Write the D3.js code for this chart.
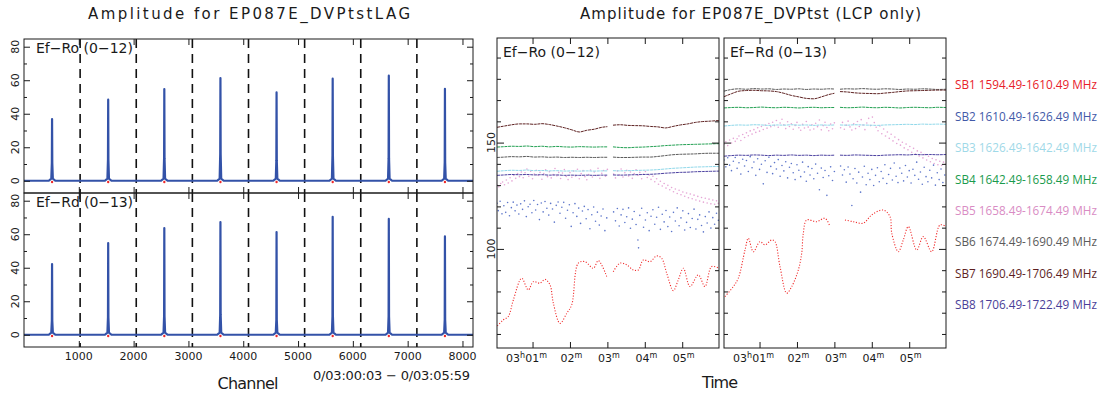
<!DOCTYPE html>
<html><head><meta charset="utf-8">
<script src="https://cdn.jsdelivr.net/npm/d3@7"></script>
<style>body{margin:0;background:#fff;} svg{display:block;}</style>
</head><body><svg id="c" width="1104" height="398"></svg>
<script>
// ---------- Left: spectra ----------
const channelTicks = [1000,2000,3000,4000,5000,6000,7000,8000];
const subbandEdges = [1024,2048,3072,4096,5120,6144,7168];
const subbandCenters = [512,1536,2560,3584,4608,5632,6656,7680];
const peaksRo = [36.8,48.4,54.7,61.3,52.7,60.9,62.7,54.9];
const shoulderRo = [10.6,12.5,13.5,16,12,15,13.5,11];
const peaksRd = [42.2,54.7,63.7,67.3,61.3,70.4,69.1,58.7];
const shoulderRd = [8.4,10.4,11,12,9,11,11,9];
const ampTicks = [0,20,40,60,80];
const ampMinor = [10,30,50,70];

// ---------- Right: amplitude vs time (seconds after 03:00:00) ----------
const timeTicks = [60,120,180,240,300];
const timeLabels = [["03","h","01","m"],["02","m"],["03","m"],["04","m"],["05","m"]];
const yMajorR = [100,150];
const yMinorR = [60,70,80,90,110,120,130,140,160,170,180,190];
const tGrid = [3,15,27,39,51,63,75,87,99,111,123,135,147,159,171,180,184,189,201,213,225,237,249,261,273,285,297,309,321,333,345,359];

const sb7A = [157.2,157.8,158.4,158.8,158.8,158.6,158.9,158.5,157.8,157.0,156.0,155.0,155.8,156.3,157.2,157.5,null,158.2,158.4,158.1,158.0,157.9,157.6,157.4,156.9,157.6,158.3,158.8,159.5,159.9,160.1,160.4];
const sb4A = [147.9,148.1,148.3,148.2,148.4,148.1,148.3,148.0,148.2,148.0,147.9,148.1,148.0,147.9,148.0,148.0,null,148.0,147.7,147.6,147.8,147.9,148.1,148.3,148.6,148.8,149.0,149.1,149.2,149.3,149.4,149.5];
const sb6A = [143.0,143.2,143.4,143.3,143.5,143.2,143.3,143.1,143.2,143.0,143.1,143.0,143.1,143.0,143.1,143.1,null,143.2,143.0,143.0,143.1,143.2,143.2,143.5,143.9,144.3,144.5,144.6,144.7,144.9,145.0,145.0];
const sb3A = [136.5,136.8,137.0,136.9,137.1,136.8,136.9,136.7,136.8,136.6,136.7,136.6,136.7,136.6,136.7,136.7,null,136.8,136.7,136.8,136.9,137.0,137.1,137.3,137.6,137.9,138.1,138.3,138.5,138.6,138.7,138.8];
const sb8A = [134.6,134.8,135.0,134.9,135.0,134.8,134.9,134.7,134.8,134.6,134.7,134.6,134.7,134.6,134.7,134.7,null,134.8,134.7,134.8,134.9,135.0,135.1,135.3,135.6,135.8,136.0,136.1,136.3,136.4,136.5,136.6];

const sb6B = [174.2,175.0,175.3,175.1,175.4,175.2,175.3,175.0,175.2,175.1,175.3,175.0,175.2,175.1,175.3,175.2,null,175.1,175.3,175.2,175.4,175.2,175.1,175.3,175.2,175.0,175.2,175.1,175.3,175.2,175.0,175.1];
const sb7B = [171.6,173.0,174.2,174.5,174.6,174.4,174.3,174.0,173.2,172.2,171.5,170.8,170.6,171.5,172.6,173.2,null,174.0,173.8,173.4,173.2,173.1,173.0,173.3,173.6,174.0,174.3,174.4,174.5,174.6,174.7,174.7];
const sb4B = [166.3,166.5,166.6,166.4,166.5,166.7,166.5,166.4,166.6,166.5,166.3,166.5,166.6,166.4,166.5,166.5,null,166.6,166.4,166.5,166.7,166.5,166.4,166.6,166.5,166.3,166.5,166.6,166.5,166.4,166.6,166.5];
const sb3B = [157.8,158.1,158.3,158.2,158.4,158.3,158.1,158.3,158.2,158.4,158.2,158.3,158.1,158.3,158.2,158.3,null,158.3,158.2,158.4,158.3,158.2,158.1,158.3,158.4,158.5,158.6,158.5,158.7,158.6,158.7,158.6];
const sb8B = [143.6,143.9,144.1,144.0,144.2,144.1,143.9,144.1,144.0,144.2,144.0,144.1,143.9,144.1,144.0,144.1,null,144.1,144.0,144.2,144.1,144.0,143.9,144.1,144.2,144.3,144.2,144.4,144.3,144.4,144.3,144.4];

const sb1TimesA = [3.5,13.1,21.1,29.2,42.6,53.2,61.2,72,80,88,93.3,104,114.8,122.8,133.4,144.1,157.5,165.5,178.9,184,189.5,200.2,211,221.6,229.6,237.6,248.3,259.1,267.1,275.1,285.7,293.7,301.8,312.5,325.8,336.5,347.2,359];
const sb1A = [63.8,66.6,68.2,76.0,86.2,80.7,84.6,83.9,85.7,83.1,74.5,65.0,69.7,73.7,93.3,94.0,90.9,94.5,87.0,null,89.3,93.3,92.5,90.1,90.1,94.8,94.0,96.7,95.6,88.6,80.4,85.4,90.9,82.3,87.8,82.3,91.7,90.9];
const sb1TimesB = [4.6,17.9,25.9,36.7,42,50,60.7,68.7,79.5,84.8,92.8,103.5,111.6,122.2,127.6,130.2,135.6,151.6,165,173,184,197,210.4,226.4,239.9,258.5,269.2,272,282.5,290.5,298.6,312,322.6,336,349.4,359];
const sb1B = [77.6,82.3,86.2,99.5,105.0,98.7,103.4,101.9,104.2,103.4,91.7,79.2,82.3,90.1,98.0,107.4,113.6,112.8,114.4,110.5,null,113.6,112.8,112.1,116.0,118.3,115.2,107.4,98.7,104.2,110.5,99.5,105.8,98.7,111.3,110.5];

const sb5A = [[3,130.0],[6,129.2],[9,130.8],[12,131.5],[15,130.2],[18,132.4],[21,131.0],[24,133.5],[27,132.0],[30,134.6],[33,133.2],[36,135.4],[39,134.0],[42,136.2],[45,133.5],[48,135.8],[51,137.6],[54,134.2],[57,136.5],[60,133.0],[63,135.2],[66,137.0],[69,134.6],[72,136.0],[75,132.8],[78,135.5],[81,137.2],[84,134.0],[87,136.3],[90,133.4],[93,135.0],[96,137.8],[99,134.4],[102,136.0],[105,133.1],[108,135.7],[111,137.3],[114,134.1],[117,132.6],[120,135.9],[123,133.7],[126,136.6],[129,134.3],[132,137.5],[135,133.0],[138,135.4],[141,136.8],[144,134.0],[147,132.5],[150,135.0],[153,137.1],[156,133.8],[159,136.2],[162,134.5],[165,137.9],[168,133.2],[171,135.6],[174,136.9],[177,134.2],[180,137.4],[190,135.2],[193,133.4],[196,136.7],[199,134.9],[202,137.6],[205,133.8],[208,135.8],[211,137.0],[214,134.3],[217,136.2],[220,133.2],[223,135.4],[226,137.2],[229,134.6],[232,136.0],[235,133.0],[238,135.1],[241,136.4],[244,133.6],[247,134.8],[250,132.7],[253,134.2],[256,131.6],[259,133.0],[262,130.4],[265,131.8],[268,129.6],[271,130.8],[274,128.6],[277,129.9],[280,127.8],[283,128.9],[286,126.9],[289,128.2],[292,126.1],[295,127.6],[298,125.5],[301,126.8],[304,124.8],[307,126.3],[310,124.1],[313,125.8],[316,123.6],[319,125.3],[322,123.0],[325,124.7],[328,122.5],[331,124.2],[334,122.0],[337,123.8],[340,121.6],[343,123.4],[346,121.2],[349,123.0],[352,121.0],[355,122.6],[358,121.4]];
const sb2A = [[3,121.5],[5,118.0],[8,122.4],[11,116.5],[14,120.3],[17,117.2],[20,121.8],[23,115.6],[26,119.4],[29,122.0],[32,117.9],[35,120.6],[38,116.4],[41,121.2],[44,118.6],[47,122.6],[50,115.2],[53,119.8],[56,121.0],[59,117.0],[62,122.8],[65,118.3],[68,120.9],[71,113.8],[74,121.6],[77,117.4],[80,122.3],[83,119.1],[86,115.9],[89,121.4],[92,118.8],[95,112.6],[98,120.5],[101,122.1],[104,116.8],[107,119.6],[110,121.9],[113,114.4],[116,118.2],[119,120.8],[122,110.6],[125,117.0],[128,121.3],[131,115.3],[134,119.2],[137,112.0],[140,117.8],[143,120.0],[146,114.2],[149,118.5],[152,109.5],[155,116.1],[158,119.7],[161,113.0],[164,117.3],[167,111.2],[170,115.5],[173,118.8],[176,108.6],[179,114.6],[190,117.4],[193,113.2],[196,119.0],[199,110.8],[202,116.0],[205,118.6],[208,112.4],[211,115.1],[214,119.3],[217,109.7],[220,114.0],[223,117.6],[226,111.5],[229,104.2],[230,100.5],[232,115.8],[235,119.1],[238,110.2],[241,113.6],[244,117.0],[247,108.6],[250,115.4],[253,118.4],[256,111.6],[259,114.9],[262,119.6],[265,109.2],[268,116.3],[271,112.7],[274,118.1],[277,110.5],[280,115.0],[283,108.2],[286,117.2],[289,113.1],[292,119.3],[295,110.9],[298,114.6],[301,117.9],[304,108.9],[307,112.5],[310,116.6],[313,110.1],[316,114.3],[319,118.7],[322,109.4],[325,113.9],[328,116.0],[331,111.0],[334,108.0],[337,115.2],[340,112.2],[343,117.4],[346,109.8],[349,114.7],[352,111.6],[355,116.8],[358,113.5]];
const sb5B = [[3,149.2],[6,150.4],[9,148.6],[12,151.2],[15,149.8],[18,152.0],[21,150.6],[24,151.8],[27,153.1],[30,151.0],[33,153.8],[36,152.4],[39,154.6],[42,153.2],[45,155.5],[48,154.0],[51,156.1],[54,154.8],[57,157.0],[60,155.4],[63,157.6],[66,156.2],[69,158.3],[72,156.8],[75,159.0],[78,157.5],[81,159.6],[84,158.0],[87,160.4],[90,157.2],[93,159.2],[96,161.0],[99,158.4],[102,156.6],[105,159.8],[108,157.6],[111,158.9],[114,156.3],[117,158.1],[120,159.5],[123,157.0],[126,155.8],[129,158.6],[132,156.9],[135,159.9],[138,157.3],[141,155.9],[144,158.4],[147,156.4],[150,159.1],[153,157.5],[156,160.6],[159,156.0],[162,158.0],[165,159.6],[168,157.1],[171,155.6],[174,158.7],[177,156.5],[180,159.3],[190,157.0],[193,159.5],[196,156.3],[199,158.2],[202,160.1],[205,157.4],[208,155.9],[211,158.8],[214,156.6],[217,159.9],[220,157.6],[223,160.8],[226,158.3],[229,156.1],[232,159.2],[235,161.4],[238,158.0],[241,162.0],[244,159.4],[247,157.2],[250,155.6],[253,157.8],[256,154.2],[259,156.4],[262,153.1],[265,155.0],[268,152.0],[271,153.9],[274,150.8],[277,152.6],[280,149.6],[283,151.4],[286,148.8],[289,150.2],[292,147.5],[295,149.3],[298,146.6],[301,148.2],[304,145.5],[307,147.3],[310,144.6],[313,146.1],[316,143.7],[319,145.4],[322,142.8],[325,144.4],[328,141.8],[331,143.6],[334,141.0],[337,142.5],[340,140.2],[343,141.9],[346,139.6],[349,141.2],[352,139.3],[355,140.8],[358,139.8]];
const sb2B = [[3,141.8],[6,138.6],[9,142.9],[12,139.4],[15,136.8],[18,141.2],[21,143.0],[24,137.9],[27,140.5],[30,135.2],[33,142.2],[36,139.0],[39,141.6],[42,136.4],[45,143.4],[48,138.2],[51,140.9],[54,134.6],[57,142.4],[60,137.4],[63,139.8],[66,130.6],[69,141.5],[72,136.0],[75,143.1],[78,138.8],[81,135.4],[84,140.6],[87,137.6],[90,142.0],[93,134.2],[96,139.2],[99,136.7],[102,141.0],[105,133.4],[108,138.4],[111,140.2],[114,135.8],[117,132.6],[120,139.6],[123,137.0],[126,134.0],[129,140.8],[132,136.2],[135,131.8],[138,138.7],[141,134.8],[144,137.8],[147,133.0],[150,139.9],[153,135.6],[156,127.8],[159,138.0],[162,133.6],[165,136.9],[168,125.2],[171,134.4],[174,138.6],[177,132.2],[180,136.4],[190,139.0],[193,134.8],[196,137.2],[199,131.4],[202,138.5],[205,135.2],[208,120.4],[210,133.0],[213,137.8],[216,131.0],[219,136.1],[222,126.7],[225,133.8],[228,138.9],[231,130.2],[234,135.6],[237,132.6],[240,137.4],[243,129.8],[246,134.6],[249,138.2],[252,131.6],[255,136.4],[258,133.2],[261,139.6],[264,130.8],[267,135.0],[270,137.9],[273,132.4],[276,140.4],[279,134.2],[282,131.2],[285,138.0],[288,135.6],[291,132.0],[294,139.2],[297,133.8],[300,136.8],[303,131.0],[306,137.5],[309,134.6],[312,140.8],[315,132.8],[318,136.2],[321,130.4],[324,138.4],[327,134.0],[330,131.6],[333,137.0],[336,133.4],[339,139.4],[342,130.0],[345,135.8],[348,132.6],[351,137.6],[354,131.2],[357,134.8]];

const legendLabels = ["SB1 1594.49-1610.49 MHz","SB2 1610.49-1626.49 MHz","SB3 1626.49-1642.49 MHz","SB4 1642.49-1658.49 MHz","SB5 1658.49-1674.49 MHz","SB6 1674.49-1690.49 MHz","SB7 1690.49-1706.49 MHz","SB8 1706.49-1722.49 MHz"];
const legendColors = ["#e8212b","#4259a8","#9fd9e8","#1a9b4d","#d98cc4","#5b5b5b","#5e1f1f","#4a3e98"];
const plotColors  = ["#f02a2a","#4a66c4","#8fd8ea","#22a052","#e29ad0","#5a5a5a","#5e2222","#4b40a0"];

// ---------- drawing ----------
const svg = d3.select("#c");
const FONT = "DejaVu Sans, Liberation Sans, sans-serif";
const ink = "#1a1a1a";

function noDomain(g){ g.select(".domain").remove(); g.selectAll("line").attr("stroke", ink); }

// Titles
svg.append("text").attr("x",88).attr("y",19).attr("font-family",FONT).attr("font-size",15).attr("fill",ink)
  .attr("textLength",322).attr("lengthAdjust","spacing").text("Amplitude for EP087E_DVPtstLAG");
svg.append("text").attr("x",580).attr("y",19).attr("font-family",FONT).attr("font-size",15).attr("fill",ink)
  .attr("textLength",341).attr("lengthAdjust","spacing").text("Amplitude for EP087E_DVPtst (LCP only)");

// Left panels
const xCh = d3.scaleLinear().domain([0,8192]).range([24,473]);
const leftPanels = [
  {label:"Ef\u2212Ro (0\u221212)", peaks:peaksRo, sh:shoulderRo, top:39, bottom:193},
  {label:"Ef\u2212Rd (0\u221213)", peaks:peaksRd, sh:shoulderRd, top:193, bottom:347}
];
leftPanels.forEach((p,i)=>{
  const y = d3.scaleLinear().domain([-7.3,84.6]).range([p.bottom,p.top]);
  const g = svg.append("g");
  const cid = "clipL"+i;
  svg.append("clipPath").attr("id",cid).append("rect").attr("x",24).attr("y",p.top).attr("width",449).attr("height",p.bottom-p.top);
  const inner = g.append("g").attr("clip-path",`url(#${cid})`);
  inner.selectAll("line.sb").data(subbandEdges).join("line")
    .attr("x1",d=>xCh(d)).attr("x2",d=>xCh(d)).attr("y1",p.top).attr("y2",p.bottom)
    .attr("stroke","#111").attr("stroke-width",1.6).attr("stroke-dasharray","9,6");
  inner.selectAll("circle.r").data(subbandCenters).join("circle")
    .attr("cx",d=>xCh(d)).attr("cy",y(-0.7)).attr("r",1.2).attr("fill","#ee2a2a");
  const pts = [[0,0]];
  subbandCenters.forEach((c,k)=>{
    pts.push([c-60,0],[c-14,1.3],[c-4,p.sh[k]],[c,p.peaks[k]],[c+4,p.sh[k]],[c+14,1.3],[c+60,0]);
  });
  pts.push([8192,0]);
  inner.append("path").datum(pts)
    .attr("d",d3.line().x(d=>xCh(d[0])).y(d=>y(d[1])))
    .attr("fill","none").attr("stroke","#3352a8").attr("stroke-width",2.2).attr("stroke-linejoin","round");
  g.append("rect").attr("x",24).attr("y",p.top).attr("width",449).attr("height",p.bottom-p.top)
    .attr("fill","none").attr("stroke",ink).attr("stroke-width",1);
  g.append("g").attr("transform","translate(24,0)").call(d3.axisRight(y).tickValues(ampTicks).tickSize(6).tickFormat("")).call(noDomain);
  g.append("g").attr("transform","translate(24,0)").call(d3.axisRight(y).tickValues(ampMinor).tickSize(3).tickFormat("")).call(noDomain);
  g.append("g").attr("transform","translate(473,0)").call(d3.axisLeft(y).tickValues(ampTicks).tickSize(6).tickFormat("")).call(noDomain);
  g.append("g").attr("transform","translate(473,0)").call(d3.axisLeft(y).tickValues(ampMinor).tickSize(3).tickFormat("")).call(noDomain);
  g.append("g").attr("transform",`translate(0,${p.bottom})`).call(d3.axisTop(xCh).tickValues(channelTicks).tickSize(6).tickFormat("")).call(noDomain);
  g.append("g").attr("transform",`translate(0,${p.top})`).call(d3.axisBottom(xCh).tickValues(channelTicks).tickSize(6).tickFormat("")).call(noDomain);
  g.selectAll("text.yl").data(ampTicks).join("text")
    .attr("transform",d=>`translate(18.5,${y(d)}) rotate(-90)`).attr("text-anchor","middle")
    .attr("font-family",FONT).attr("font-size",11).attr("fill",ink).text(d=>d);
  g.append("text").attr("x",36).attr("y",y(80)+6).attr("font-family",FONT).attr("font-size",14).attr("fill",ink)
    .attr("textLength",97).attr("lengthAdjust","spacing").text(p.label);
});
svg.selectAll("text.xl").data(channelTicks).join("text")
  .attr("x",d=>xCh(d)).attr("y",360).attr("text-anchor","middle")
  .attr("font-family",FONT).attr("font-size",11).attr("fill",ink).text(d=>d);
svg.append("text").attr("x",248).attr("y",389).attr("text-anchor","middle").attr("font-family",FONT).attr("font-size",16).attr("fill",ink)
  .attr("textLength",61).attr("lengthAdjust","spacing").text("Channel");
svg.append("text").attr("x",313).attr("y",380).attr("font-family",FONT).attr("font-size",13).attr("fill",ink)
  .attr("textLength",157).attr("lengthAdjust","spacing").text("0/03:00:03 \u2212 0/03:05:59");

// Right panels
const yR = d3.scaleLinear().domain([53.4,199.2]).range([348,38]);
const rightPanels = [
  {x0:497,x1:719,label:"Ef\u2212Ro (0\u221212)",smooth:[[sb7A,6],[sb4A,3],[sb6A,5],[sb3A,2],[sb8A,7]],sb5:sb5A,sb2:sb2A,t1:sb1TimesA,v1:sb1A},
  {x0:724,x1:946,label:"Ef\u2212Rd (0\u221213)",smooth:[[sb6B,5],[sb7B,6],[sb4B,3],[sb3B,2],[sb8B,7]],sb5:sb5B,sb2:sb2B,t1:sb1TimesB,v1:sb1B}
];
rightPanels.forEach((p,i)=>{
  const x = d3.scaleLinear().domain([3,359]).range([p.x0,p.x1]);
  const g = svg.append("g");
  const cid = "clipR"+i;
  svg.append("clipPath").attr("id",cid).append("rect").attr("x",p.x0).attr("y",38).attr("width",p.x1-p.x0).attr("height",310);
  const inner = g.append("g").attr("clip-path",`url(#${cid})`);
  inner.selectAll("circle.b").data(p.sb2).join("circle")
    .attr("cx",d=>x(d[0])).attr("cy",d=>yR(d[1])).attr("r",0.8).attr("fill",plotColors[1]).attr("opacity",0.9);
  inner.selectAll("circle.p").data(p.sb5).join("circle")
    .attr("cx",d=>x(d[0])).attr("cy",d=>yR(d[1])).attr("r",0.8).attr("fill",plotColors[4]).attr("opacity",0.9);
  const line = d3.line().defined(d=>d[1]!==null).x(d=>x(d[0])).y(d=>yR(d[1])).curve(d3.curveMonotoneX);
  p.smooth.forEach(([vals,ci])=>{
    inner.append("path").datum(tGrid.map((t,k)=>[t,vals[k]]))
      .attr("d",line).attr("fill","none").attr("stroke",plotColors[ci]).attr("stroke-width",1)
      .attr("stroke-dasharray","3,0.7");
  });
  const lineR = d3.line().defined(d=>d[1]!==null).x(d=>x(d[0])).y(d=>yR(d[1])).curve(d3.curveCatmullRom);
  inner.append("path").datum(p.t1.map((t,k)=>[t,p.v1[k]]))
    .attr("d",lineR).attr("fill","none").attr("stroke",plotColors[0]).attr("stroke-width",1.1)
    .attr("stroke-dasharray","1.1,1.7");
  g.append("rect").attr("x",p.x0).attr("y",38).attr("width",p.x1-p.x0).attr("height",310)
    .attr("fill","none").attr("stroke",ink).attr("stroke-width",1);
  g.append("g").attr("transform",`translate(${p.x0},0)`).call(d3.axisRight(yR).tickValues(yMajorR).tickSize(7).tickFormat("")).call(noDomain);
  g.append("g").attr("transform",`translate(${p.x0},0)`).call(d3.axisRight(yR).tickValues(yMinorR).tickSize(4).tickFormat("")).call(noDomain);
  g.append("g").attr("transform",`translate(${p.x1},0)`).call(d3.axisLeft(yR).tickValues(yMajorR).tickSize(7).tickFormat("")).call(noDomain);
  g.append("g").attr("transform",`translate(${p.x1},0)`).call(d3.axisLeft(yR).tickValues(yMinorR).tickSize(4).tickFormat("")).call(noDomain);
  g.append("g").attr("transform","translate(0,348)").call(d3.axisTop(x).tickValues(timeTicks).tickSize(6).tickFormat("")).call(noDomain);
  g.append("g").attr("transform","translate(0,38)").call(d3.axisBottom(x).tickValues(timeTicks).tickSize(6).tickFormat("")).call(noDomain);
  timeTicks.forEach((t,k)=>{
    const parts = timeLabels[k];
    const tx = g.append("text").attr("x",x(t)+(k===0?-6:1.5)).attr("y",362).attr("text-anchor","middle")
      .attr("font-family",FONT).attr("font-size",11).attr("fill",ink);
    parts.forEach((s,j)=>{
      if (j%2===0) tx.append("tspan").attr("dy", j===0?0:4).text(s);
      else tx.append("tspan").attr("dy",-4).attr("font-size",8).text(s);
    });
  });
  g.append("text").attr("x",p.x0+6).attr("y",57).attr("font-family",FONT).attr("font-size",14).attr("fill",ink)
    .attr("textLength",97).attr("lengthAdjust","spacing").text(p.label);
  if (i===0) {
    g.selectAll("text.yr").data(yMajorR).join("text")
      .attr("transform",d=>`translate(494.5,${yR(d)}) rotate(-90)`).attr("text-anchor","middle")
      .attr("font-family",FONT).attr("font-size",11).attr("fill",ink).text(d=>d);
  }
});
svg.append("text").attr("x",720).attr("y",388).attr("text-anchor","middle").attr("font-family",FONT).attr("font-size",16).attr("fill",ink)
  .attr("textLength",36).attr("lengthAdjust","spacing").text("Time");

// Legend
svg.selectAll("text.lg").data(legendLabels).join("text")
  .attr("x",955).attr("y",(d,i)=>89.3+i*31.4)
  .attr("font-family","Open Sans, Noto Sans, sans-serif").attr("font-size",12)
  .attr("fill",(d,i)=>legendColors[i]).attr("textLength",142).attr("lengthAdjust","spacingAndGlyphs").text(d=>d);
</script></body></html>
